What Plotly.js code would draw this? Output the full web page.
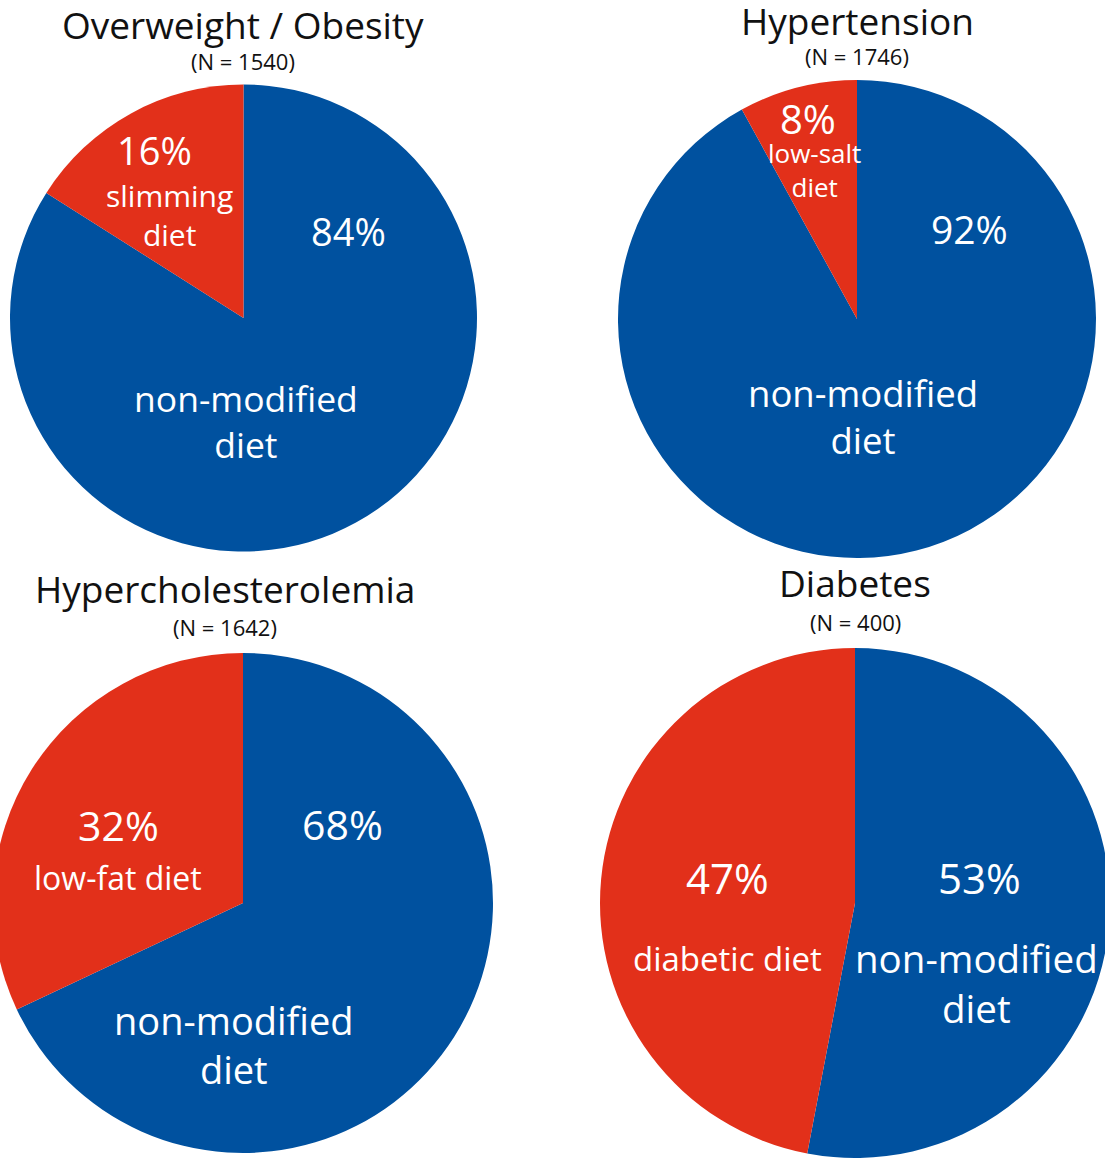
<!DOCTYPE html>
<html>
<head>
<meta charset="utf-8">
<script src="https://cdn.plot.ly/plotly-3.0.1.min.js"></script>
<style>
  html, body { margin: 0; padding: 0; background: #ffffff; overflow: hidden; }
  #chart { position: absolute; left: -20px; top: 0; width: 1150px; height: 1159px; }
</style>
</head>
<body>
<div id="chart"></div>
<script>
// ---- data ----
const titles = ["Overweight / Obesity", "Hypertension", "Hypercholesterolemia", "Diabetes"];
const sampleSizes = [1540, 1746, 1642, 400];
const nonModifiedPct = [84, 92, 68, 53];
const modifiedDietPct = [16, 8, 32, 47];
const modifiedDietLabels = ["slimming diet", "low-salt diet", "low-fat diet", "diabetic diet"];
const nonModifiedLabel = "non-modified diet";

// ---- layout geometry (pixels in the 1105x1159 page) ----
const W = 1150, H = 1159, OX = 20;
const BLUE = "#00519F", RED = "#E2301A";
const FONT = "Open Sans, sans-serif";

const pies = [
  {cx: 243.5, cy: 318, r: 233.5, title: [243, 25], n: [243, 61],
   red: {pct: [154, 150], lab: [169, 215], wrap: true, size: 30, psize: 38},
   blue: {pct: [348, 231], lab: [246, 421], size: 35.5, psize: 38}},
  {cx: 857, cy: 319, r: 239, title: [857, 21], n: [857, 56],
   red: {pct: [808, 118], lab: [814, 170], wrap: true, size: 26, psize: 40},
   blue: {pct: [969, 229], lab: [863, 416], size: 36.5, psize: 39}},
  {cx: 243, cy: 903, r: 250, title: [225, 588], n: [225, 627],
   red: {pct: [118, 825], lab: [118, 877], wrap: false, size: 32, psize: 41},
   blue: {pct: [342, 824], lab: [234, 1044], size: 38, psize: 41}},
  {cx: 855, cy: 903, r: 255, title: [855, 582], n: [855, 622],
   red: {pct: [727, 877], lab: [727, 958], wrap: false, size: 33, psize: 42},
   blue: {pct: [979, 877], lab: [976, 983], size: 38.5, psize: 42}}
];

const px = x => (x + OX) / W;
const py = y => 1 - y / H;

function wrapLast(s) {
  const i = s.lastIndexOf(" ");
  return i < 0 ? s : s.slice(0, i) + "<br>" + s.slice(i + 1);
}

const data = [];
const annotations = [];

pies.forEach((p, i) => {
  data.push({
    type: "pie",
    values: [nonModifiedPct[i], modifiedDietPct[i]],
    labels: [nonModifiedLabel, modifiedDietLabels[i]],
    sort: false,
    direction: "clockwise",
    rotation: 0,
    marker: {colors: [BLUE, RED], line: {width: 0}},
    textinfo: "none",
    hoverinfo: "label+percent",
    showlegend: false,
    domain: {
      x: [px(p.cx - p.r), px(p.cx + p.r)],
      y: [py(p.cy + p.r), py(p.cy - p.r)]
    }
  });

  const ann = (xy, text, size, color) => annotations.push({
    xref: "paper", yref: "paper", x: px(xy[0]), y: py(xy[1]),
    xanchor: "center", yanchor: "middle", showarrow: false,
    text: text, font: {family: FONT, size: size, color: color}
  });

  ann(p.title, titles[i], 37, "#111111");
  ann(p.n, "(N = " + sampleSizes[i] + ")", 22, "#111111");
  ann(p.red.pct, modifiedDietPct[i] + "%", p.red.psize, "#ffffff");
  ann(p.red.lab, p.red.wrap ? wrapLast(modifiedDietLabels[i]) : modifiedDietLabels[i], p.red.size, "#ffffff");
  ann(p.blue.pct, nonModifiedPct[i] + "%", p.blue.psize, "#ffffff");
  ann(p.blue.lab, wrapLast(nonModifiedLabel), p.blue.size, "#ffffff");
});

const layout = {
  width: W, height: H,
  margin: {l: 0, r: 0, t: 0, b: 0},
  paper_bgcolor: "#ffffff",
  plot_bgcolor: "#ffffff",
  font: {family: FONT},
  annotations: annotations
};

Plotly.newPlot("chart", data, layout, {displayModeBar: false, staticPlot: true});
</script>
</body>
</html>
